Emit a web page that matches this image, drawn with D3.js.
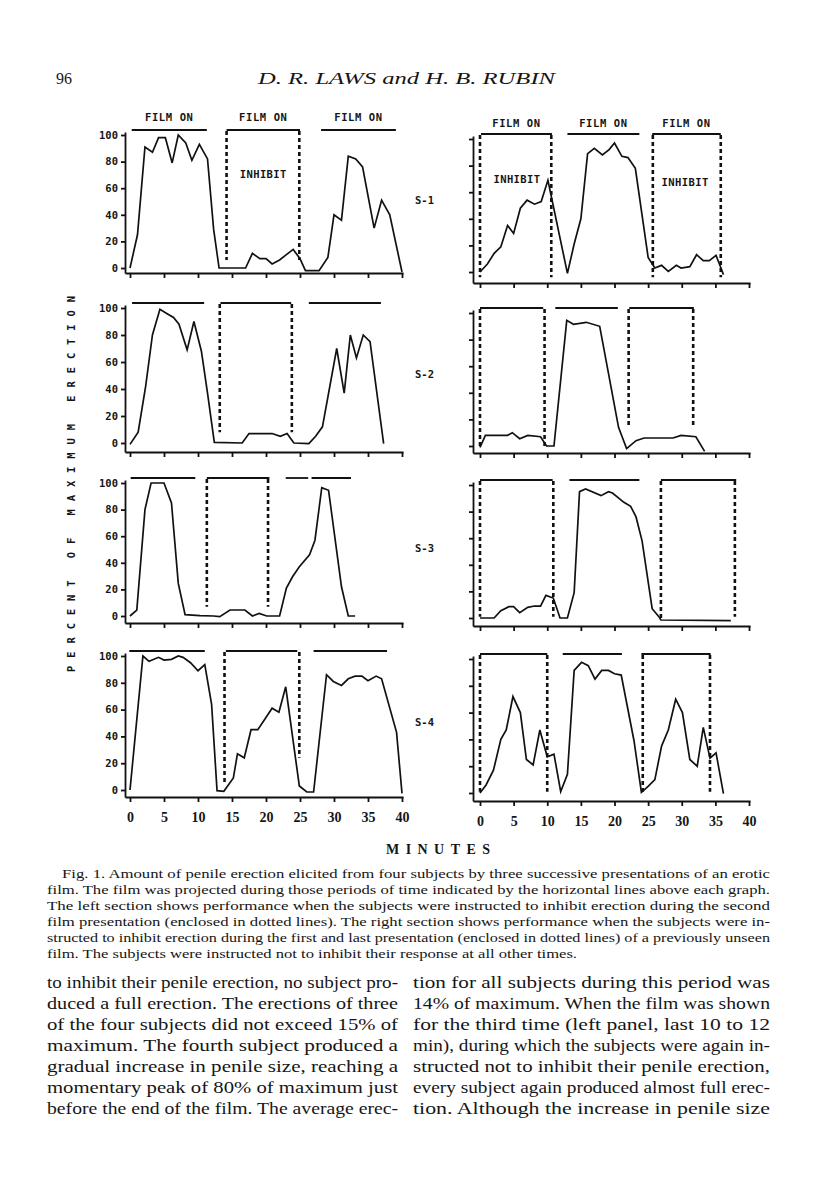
<!DOCTYPE html>
<html>
<head>
<meta charset="utf-8">
<script src="https://cdn.jsdelivr.net/npm/d3@7"></script>
<style>
  body { margin: 0; background: #fff; }
  svg { display: block; }
  .mono { font-family: "DejaVu Sans Mono", monospace; font-weight: bold; fill: #151515; }
  .serif { font-family: "Liberation Serif", "DejaVu Serif", serif; fill: #151515; }
</style>
</head>
<body>
<div id="page"></div>
<script>
var pageWidth = 816;
var pageHeight = 1191;

// minutes, percent of maximum erection
var s1Left = [[0,0],[1.1,25],[2.2,91],[3.3,87],[4.2,98],[5.2,98],[6.2,79],[7.1,100],[8.2,94],[9.1,81],[10.2,93],[11.4,82],[12.3,29],[13.1,0],[17,0],[18,11],[19.1,7],[20,7],[20.9,3],[22,6],[23,10],[24,14],[25,7],[25.8,-2],[27.8,-2],[29.1,8],[30,40],[31.1,36],[32.1,84],[33.2,82],[34.2,76],[35.9,30],[37,51],[38.2,40],[40,-3]];
var s1Right = [[0,0],[1.1,6],[2.1,14],[3.1,19],[4.1,35],[5,29],[6,48],[7,54],[8.1,51],[9.1,53],[10.1,69],[13,-1],[14,21],[15,40],[16,89],[17,93],[18.2,88],[19.2,92],[20,97],[21.1,87],[22,86],[23.1,78],[25,11],[26,3],[27,5],[28,0.5],[29.2,5],[29.9,3],[31.2,4],[32.2,13],[33.2,8.5],[34.1,8.5],[35.1,12.5],[35.6,6],[36.2,-2]];
var s2Left = [[0,-1],[1.2,8],[2.3,42],[3.3,80],[4.4,99],[5.4,96],[6.4,93],[7.2,88],[8.4,69],[9.4,90],[10.5,68],[11.4,37],[12.4,0.5],[16.5,0],[17.5,7],[20.9,7],[22.1,5],[23.1,7],[24.1,0],[26.3,-0.5],[27.3,5],[28.3,12],[30.4,70],[31.5,37],[32.4,80],[33.3,63],[34.3,80],[35.3,75],[37.3,-0.5]];
var s2Right = [[0,-1],[0.8,8],[4.1,8],[4.8,10],[5.9,5.5],[7.1,8],[9,7],[9.9,0],[11,0],[12.9,94.5],[13.9,91.5],[15.8,93],[17.8,90],[20.6,14],[21.8,-2],[23.2,4],[24.4,6],[28.7,6],[29.9,8],[32.1,7],[33.4,-4]];
var s3Left = [[0,0],[1,4.5],[2.2,80],[3.1,100],[5,100],[6.1,85],[7.1,24.5],[8.1,1],[10.3,0.3],[12.3,0],[13.2,-0.5],[14.7,4.5],[16.9,4.5],[18,0],[19,2],[20.1,0],[22,0],[23,21],[23.9,29.5],[24.9,37],[26.4,46],[27.2,57],[28.2,96.5],[29.2,94.5],[31.1,22],[32.1,0],[33.1,0]];
var s3Right = [[0,0],[2.1,0],[3.1,5.5],[4.3,8.5],[5,8.5],[5.9,4],[7.1,8],[8.1,9],[9,9],[9.8,17],[10.9,15],[11.9,0],[13,0],[14,19],[14.8,95],[15.7,97],[18,92],[19.1,95],[19.7,94],[21.4,87],[22.4,84],[23.2,76],[24.1,58],[25.6,7],[26.6,1],[26.9,-1.5],[37.3,-2]];
var s4Left = [[0,0],[1.9,100],[2.8,96],[4.2,99],[5,97],[6.1,97.5],[7.1,100],[7.8,99],[8.9,95],[10,89],[11,93.5],[12,64],[12.8,-0.5],[13.8,-1],[15.2,9],[15.8,27],[16.8,24],[17.8,45],[18.8,45],[20.9,61],[21.9,58],[22.9,77],[24.9,3],[26,-1.5],[27,-1.5],[28.9,86],[29.9,81],[31.1,78],[32.1,83],[33.1,85],[34.1,85],[35,81.5],[36.2,85],[37,83],[39.2,43],[40,-2.5]];
var s4Right = [[0,0],[0.9,6],[2,17],[3.1,40],[3.9,47],[4.9,72],[6,60],[6.9,25],[7.9,21],[8.9,47],[10,27],[11,29],[12,1],[13,14],[14,91.5],[15.1,97.5],[16.1,95],[17.1,85],[18.1,91.5],[19.1,91.5],[20,89],[21,88],[22.9,39],[24,0.5],[25,5],[26,10],[27,35],[28,47],[29.1,70],[30.1,60],[31.2,25],[32.3,20],[33.2,49],[34.2,26],[35.1,30],[36.2,-0.5]];

// film on periods [start, end] in minutes
var s1LeftFilm = [[0.25,11.3],[14.2,25],[28.1,39.1]];
var s1RightFilm = [[0.15,10.7],[13,23.7],[25.6,35.8]];
var s2LeftFilm = [[0.3,10.9],[13.3,23.7],[26.3,36.9]];
var s2RightFilm = [[0,9.4],[11.2,20.5],[22.2,31.8]];
var s3LeftFilm = [[0.1,9.6],[11.3,20.5],[22.9,26.2],[26.7,32.5]];
var s3RightFilm = [[0,10.8],[13.3,23.7],[26.9,38.1]];
var s4LeftFilm = [[-0.1,11],[14.1,24.6],[27,37.8]];
var s4RightFilm = [[0,10],[12.3,21.1],[24,34.3]];

// inhibit boundaries: [minute, lowest value the dotted line reaches]
var s1LeftDots = [[14.2,6],[24.9,6]];
var s1RightDots = [[0,-4],[10.6,-4],[25.7,-4],[35.8,-4]];
var s2LeftDots = [[13.2,8],[23.8,8]];
var s2RightDots = [[0,0],[9.6,0],[22.1,14],[31.7,14]];
var s3LeftDots = [[11.3,7],[20.3,7]];
var s3RightDots = [[0,1],[10.9,1],[26.9,-2],[37.9,1]];
var s4LeftDots = [[13.9,5],[24.9,24]];
var s4RightDots = [[0,1],[10,1],[24.2,1],[34.2,1]];

// INHIBIT labels [minute, value]
var s1LeftInhibit = [[19.6,71]];
var s1RightInhibit = [[5.5,70],[30.5,68]];

var yTicks = [0, 20, 40, 60, 80, 100];
var xTicks = [0, 5, 10, 15, 20, 25, 30, 35, 40];
var subjects = ["S-1", "S-2", "S-3", "S-4"];

var captionLines = [
  "Fig. 1. Amount of penile erection elicited from four subjects by three successive presentations of an erotic",
  "film. The film was projected during those periods of time indicated by the horizontal lines above each graph.",
  "The left section shows performance when the subjects were instructed to inhibit erection during the second",
  "film presentation (enclosed in dotted lines). The right section shows performance when the subjects were in-",
  "structed to inhibit erection during the first and last presentation (enclosed in dotted lines) of a previously unseen",
  "film. The subjects were instructed not to inhibit their response at all other times."
];
var bodyLeft = [
  "to inhibit their penile erection, no subject pro-",
  "duced a full erection. The erections of three",
  "of the four subjects did not exceed 15% of",
  "maximum. The fourth subject produced a",
  "gradual increase in penile size, reaching a",
  "momentary peak of 80% of maximum just",
  "before the end of the film. The average erec-"
];
var bodyRight = [
  "tion for all subjects during this period was",
  "14% of maximum. When the film was shown",
  "for the third time (left panel, last 10 to 12",
  "min), during which the subjects were again in-",
  "structed not to inhibit their penile erection,",
  "every subject again produced almost full erec-",
  "tion. Although the increase in penile size"
];

var svg = d3.select("#page").append("svg")
  .attr("width", pageWidth)
  .attr("height", pageHeight);
svg.append("rect").attr("width", pageWidth).attr("height", pageHeight).attr("fill", "#fff");

// header
svg.append("text").attr("class", "serif")
  .attr("x", 56).attr("y", 84)
  .attr("textLength", 16).attr("lengthAdjust", "spacingAndGlyphs")
  .style("font-size", "17px")
  .text("96");
svg.append("text").attr("class", "serif")
  .attr("x", 258).attr("y", 84)
  .attr("textLength", 297).attr("lengthAdjust", "spacingAndGlyphs")
  .style("font-size", "17px").style("font-style", "italic")
  .text("D. R. LAWS and H. B. RUBIN");

var xLeft = d3.scaleLinear().domain([0, 40]).range([130, 402]);
var xRight = d3.scaleLinear().domain([0, 40]).range([480, 749]);

// layout of the eight panels (pixel positions of 100, 0 and the x axis line)
var panels = [
  {data: s1Left, film: s1LeftFilm, dots: s1LeftDots, inhibit: s1LeftInhibit, x: xLeft, axisX: 125, top: 135, zero: 268, base: 273, row: 0},
  {data: s1Right, film: s1RightFilm, dots: s1RightDots, inhibit: s1RightInhibit, x: xRight, axisX: 473, top: 139, zero: 272, base: 283, row: 0},
  {data: s2Left, film: s2LeftFilm, dots: s2LeftDots, inhibit: [], x: xLeft, axisX: 125, top: 308, zero: 443, base: 452, row: 1},
  {data: s2Right, film: s2RightFilm, dots: s2RightDots, inhibit: [], x: xRight, axisX: 473, top: 313, zero: 446, base: 453, row: 1},
  {data: s3Left, film: s3LeftFilm, dots: s3LeftDots, inhibit: [], x: xLeft, axisX: 125, top: 483, zero: 616, base: 623, row: 2},
  {data: s3Right, film: s3RightFilm, dots: s3RightDots, inhibit: [], x: xRight, axisX: 473, top: 485, zero: 618, base: 626, row: 2},
  {data: s4Left, film: s4LeftFilm, dots: s4LeftDots, inhibit: [], x: xLeft, axisX: 125, top: 656, zero: 790, base: 797, row: 3},
  {data: s4Right, film: s4RightFilm, dots: s4RightDots, inhibit: [], x: xRight, axisX: 473, top: 659, zero: 793, base: 801, row: 3}
];

panels.forEach(function(p, i) {
  var isLeft = (i % 2 == 0);
  var x = p.x;
  var y = d3.scaleLinear().domain([0, 100]).range([p.zero, p.top]);
  var g = svg.append("g");

  // axes
  var yAxisScale = y.copy().domain([y.invert(p.base), y.invert(p.top - 3)]).range([p.base, p.top - 3]);
  var yAxis = g.append("g")
    .attr("transform", "translate(" + p.axisX + ",0)")
    .call(d3.axisLeft(yAxisScale).tickValues(yTicks).tickSize(4).tickSizeOuter(0)
      .tickFormat(isLeft ? d3.format("d") : function() { return ""; }));
  yAxis.select(".domain").attr("stroke", "#111").attr("stroke-width", 1.8);
  yAxis.selectAll(".tick line").attr("stroke", "#111").attr("stroke-width", 1.8);
  yAxis.selectAll(".tick text").attr("class", "mono").attr("x", -7)
    .style("font-size", "10.5px").attr("font-family", null);

  var xEnd = x(40) + 1;
  var xAxisScale = x.copy().domain([x.invert(p.axisX), x.invert(xEnd)]).range([p.axisX, xEnd]);
  var xAxis = g.append("g")
    .attr("transform", "translate(0," + p.base + ")")
    .call(d3.axisBottom(xAxisScale).tickValues(xTicks).tickSize(5).tickSizeOuter(0)
      .tickFormat(p.row == 3 ? d3.format("d") : function() { return ""; }));
  xAxis.select(".domain").attr("stroke", "#111").attr("stroke-width", 1.8);
  xAxis.selectAll(".tick line").attr("stroke", "#111").attr("stroke-width", 1.8);
  xAxis.selectAll(".tick text").attr("class", "serif").attr("y", 15)
    .attr("font-family", null)
    .style("font-size", "14px").style("font-weight", "bold");

  // film on bars
  var barY = p.top - 5;
  g.selectAll(".film")
    .data(p.film)
    .enter()
    .append("line")
      .attr("x1", function(d) { return x(d[0]); })
      .attr("x2", function(d) { return x(d[1]); })
      .attr("y1", barY).attr("y2", barY)
      .attr("stroke", "#111").attr("stroke-width", 1.8);

  if (p.row == 0) {
    g.selectAll(".filmlabel")
      .data(p.film)
      .enter()
      .append("text")
        .attr("class", "mono")
        .attr("x", function(d) { return x((d[0] + d[1]) / 2); })
        .attr("y", barY - (isLeft ? 9 : 7))
        .attr("text-anchor", "middle")
        .style("font-size", "10.5px").style("letter-spacing", "0.6px")
        .text("FILM ON");
  }

  // dotted inhibit boundaries
  g.selectAll(".dots")
    .data(p.dots)
    .enter()
    .append("line")
      .attr("x1", function(d) { return x(d[0]); })
      .attr("x2", function(d) { return x(d[0]); })
      .attr("y1", barY + 1)
      .attr("y2", function(d) { return y(d[1]); })
      .attr("stroke", "#111").attr("stroke-width", 2.6)
      .attr("stroke-dasharray", "4,3");

  g.selectAll(".inhibit")
    .data(p.inhibit)
    .enter()
    .append("text")
      .attr("class", "mono")
      .attr("x", function(d) { return x(d[0]); })
      .attr("y", function(d) { return y(d[1]) + 4; })
      .attr("text-anchor", "middle")
      .style("font-size", "10.5px").style("letter-spacing", "0.4px")
      .text("INHIBIT");

  // response curve
  var line = d3.line()
    .x(function(d) { return x(d[0]); })
    .y(function(d) { return y(d[1]); });
  g.append("path")
    .datum(p.data)
    .attr("d", line)
    .attr("fill", "none")
    .attr("stroke", "#111")
    .attr("stroke-width", 1.7)
    .attr("stroke-linejoin", "miter");

  if (isLeft) {
    svg.append("text").attr("class", "mono")
      .attr("x", 415)
      .attr("y", y(48))
      .style("font-size", "10.5px")
      .text(subjects[p.row]);
  }
});

// y axis title
svg.append("text").attr("class", "mono")
  .attr("transform", "translate(75,480) rotate(-90)")
  .attr("text-anchor", "middle")
  .style("font-size", "10.5px").style("letter-spacing", "7.9px")
  .text("PERCENT OF MAXIMUM ERECTION");

svg.append("text").attr("class", "serif")
  .attr("x", 386).attr("y", 854)
  .attr("textLength", 104).attr("lengthAdjust", "spacing")
  .style("font-size", "14px").style("font-weight", "bold")
  .text("MINUTES");

// caption
svg.selectAll(".caption")
  .data(captionLines)
  .enter()
  .append("text")
    .attr("class", "serif")
    .attr("x", function(d, i) { return i == 0 ? 62 : 47; })
    .attr("y", function(d, i) { return 878 + i * 16; })
    .attr("textLength", function(d, i) { return i == captionLines.length - 1 ? 530 : (i == 0 ? 708 : 723); })
    .attr("lengthAdjust", "spacingAndGlyphs")
    .style("font-size", "13.5px")
    .text(function(d) { return d; });

// body text, two columns
[[bodyLeft, 47, 351], [bodyRight, 413, 357]].forEach(function(col) {
  svg.selectAll(".body" + col[1])
    .data(col[0])
    .enter()
    .append("text")
      .attr("class", "serif")
      .attr("x", col[1])
      .attr("y", function(d, i) { return 988 + i * 21; })
      .attr("textLength", col[2])
      .attr("lengthAdjust", "spacingAndGlyphs")
      .style("font-size", "17.5px")
      .text(function(d) { return d; });
});
</script>
</body>
</html>
